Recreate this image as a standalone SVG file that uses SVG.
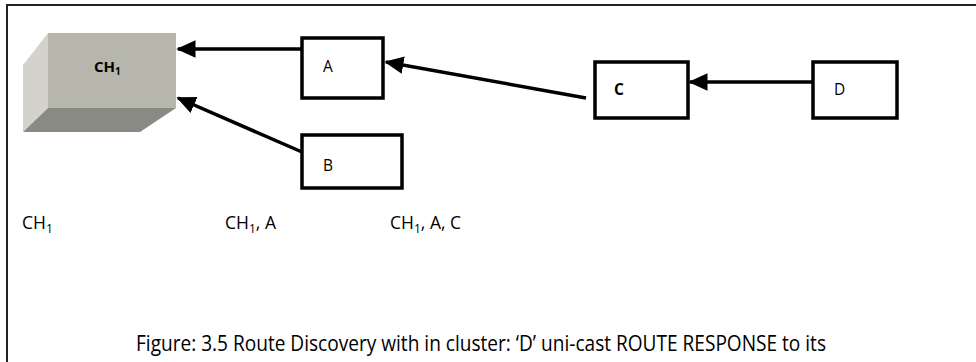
<svg xmlns="http://www.w3.org/2000/svg" width="976" height="362" viewBox="0 0 976 362">
<style>
.box{fill:#fff;stroke:#000;stroke-width:3.5}
.lbl{font-family:"Open Sans","Liberation Sans",sans-serif;font-size:15.5px;fill:#000}
.bl{font-family:"Open Sans","Liberation Sans",sans-serif;font-size:17.5px;fill:#000}
.cap{font-family:"Open Sans","Liberation Sans",sans-serif;font-size:21px;fill:#000}
.conn{stroke:#000;stroke-width:3.5;fill:none;marker-end:url(#ah)}
</style>
<defs>
<marker id="ah" markerWidth="5.5" markerHeight="5" refX="5" refY="2.5" orient="auto" markerUnits="strokeWidth">
<path d="M0,0 L5.5,2.5 L0,5 z" fill="#000"/>
</marker>
</defs>
<rect width="976" height="362" fill="#fff"/>
<path d="M7,362 V5 H976" fill="none" stroke="#222" stroke-width="2"/>
<g id="CH1">
<polygon points="23,65 48,33 48,108 23,132" fill="#d4d3cb"/>
<polygon points="48,108 176,108 140,132 23,132" fill="#8a8a84"/>
<rect x="48" y="33" width="128" height="75" fill="#b6b6ac"/>
<text x="94" y="72" font-family="'Open Sans','Liberation Sans',sans-serif" font-size="15" font-weight="bold">CH<tspan font-size="10" dy="3">1</tspan></text>
</g>
<g id="A">
<rect class="box" x="302" y="38" width="81" height="60"/>
<text class="lbl" x="323" y="72">A</text>
</g>
<g id="B">
<rect class="box" x="302" y="135" width="100" height="53"/>
<text class="lbl" x="323" y="171">B</text>
</g>
<g id="C">
<rect class="box" x="595" y="62" width="93" height="56"/>
<text class="lbl" x="614" y="95" font-weight="bold">C</text>
</g>
<g id="D">
<rect class="box" x="813" y="62" width="84" height="56"/>
<text class="lbl" x="834" y="95">D</text>
</g>
<g id="connectors">
<line class="conn" x1="302" y1="49" x2="178" y2="49"/>
<line class="conn" x1="302" y1="152" x2="178" y2="98"/>
<line class="conn" x1="586" y1="98" x2="386" y2="62"/>
<line class="conn" x1="813" y1="82" x2="690" y2="82"/>
</g>
<text class="bl" x="22" y="229">CH<tspan font-size="12" dy="4">1</tspan></text>
<text class="bl" x="225" y="229">CH<tspan font-size="12" dy="4">1</tspan><tspan dy="-4">, A</tspan></text>
<text class="bl" x="390" y="229">CH<tspan font-size="12" dy="4">1</tspan><tspan dy="-4">, A, C</tspan></text>
<text class="cap" x="136" y="351" textLength="690" lengthAdjust="spacingAndGlyphs">Figure: 3.5 Route Discovery with in cluster: ‘D’ uni-cast ROUTE RESPONSE to its</text>
</svg>
